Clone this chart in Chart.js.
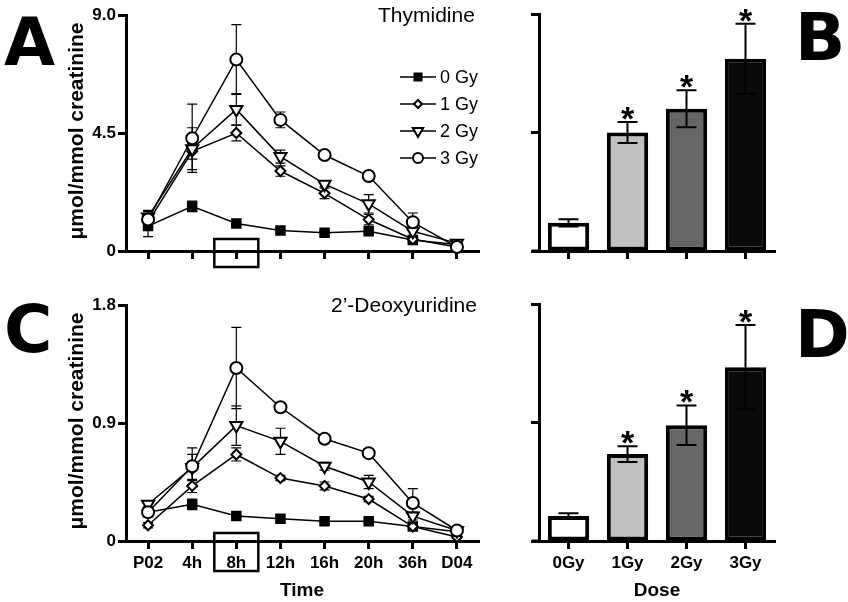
<!DOCTYPE html>
<html>
<head>
<meta charset="utf-8">
<script src="https://cdn.jsdelivr.net/npm/chart.js@4.4.0/dist/chart.umd.min.js"></script>
<style>
  body { margin: 0; background: #fff; }
  #wrap { position: relative; width: 848px; height: 602px; overflow: hidden; font-family: "Liberation Sans", Arial, sans-serif; }
  canvas { position: absolute; }
  .txt { position: absolute; white-space: nowrap; color: #000; }
  .big { font-family: "DejaVu Sans", sans-serif; font-weight: bold; font-size: 66px; line-height: 66px; }
  .ylab { font-weight: bold; font-size: 21px; transform: translate(-50%, -50%) rotate(-90deg); }
  .xlab { font-weight: bold; font-size: 19px; transform: translate(-50%, -50%); }
  .ttl { font-size: 21px; transform: translateY(-50%); }
</style>
</head>
<body>
<div id="wrap">
  <canvas id="chartA" width="490" height="290" style="left:0;top:0"></canvas>
  <canvas id="chartB" width="300" height="290" style="left:490px;top:0"></canvas>
  <canvas id="chartC" width="490" height="290" style="left:0;top:290px"></canvas>
  <canvas id="chartD" width="300" height="290" style="left:490px;top:290px"></canvas>

  <div class="txt big" style="left:4px;top:10px">A</div>
  <div class="txt big" style="left:795px;top:5px">B</div>
  <div class="txt big" style="left:4px;top:297px">C</div>
  <div class="txt big" style="left:795px;top:302px">D</div>

  <div class="txt ylab" style="left:76px;top:131px">μmol/mmol creatinine</div>
  <div class="txt ylab" style="left:76px;top:421px">μmol/mmol creatinine</div>
  <div class="txt ttl" style="left:378px;top:15px">Thymidine</div>
  <div class="txt ttl" style="left:331px;top:305px">2’-Deoxyuridine</div>
  <div class="txt xlab" style="left:302px;top:590px">Time</div>
  <div class="txt xlab" style="left:657px;top:590px">Dose</div>
</div>
<script>
// time points and dose groups
var timeLabels = ['P02', '4h', '8h', '12h', '16h', '20h', '36h', 'D04'];
var doseNames = ['0 Gy', '1 Gy', '2 Gy', '3 Gy'];
var doseLabels = ['0Gy', '1Gy', '2Gy', '3Gy'];

// thymidine, mean and error per time point
var thy0 = [0.95, 1.7, 1.05, 0.78, 0.7, 0.75, 0.42, 0.25];
var thy1 = [1.1, 3.8, 4.5, 3.05, 2.2, 1.2, 0.45, 0.15];
var thy2 = [1.3, 3.9, 5.4, 3.6, 2.55, 1.8, 0.75, 0.3];
var thy3 = [1.2, 4.3, 7.3, 5.0, 3.66, 2.86, 1.1, 0.15];
var thy0Err = [0.4, 0.2, 0.05, 0.05, 0.05, 0.05, 0.05, 0.03];
var thy1Err = [0.2, 0.3, 0.3, 0.2, 0.2, 0.2, 0.1, 0.05];
var thy2Err = [0.25, 0.8, 0.6, 0.25, 0.1, 0.35, 0.2, 0.05];
var thy3Err = [0.3, 1.3, 1.33, 0.3, 0.1, 0.1, 0.35, 0.05];

// 2'-deoxyuridine
var du0 = [0.22, 0.28, 0.19, 0.17, 0.15, 0.15, 0.11, 0.07];
var du1 = [0.12, 0.42, 0.66, 0.48, 0.42, 0.32, 0.11, 0.03];
var du2 = [0.28, 0.56, 0.88, 0.76, 0.57, 0.45, 0.19, 0.08];
var du3 = [0.22, 0.57, 1.32, 1.02, 0.78, 0.67, 0.29, 0.08];
var du0Err = [0.02, 0.04, 0.01, 0.02, 0.01, 0.01, 0.01, 0.01];
var du1Err = [0.02, 0.05, 0.05, 0.02, 0.03, 0.02, 0.02, 0.01];
var du2Err = [0.02, 0.1, 0.15, 0.1, 0.03, 0.05, 0.03, 0.01];
var du3Err = [0.02, 0.14, 0.31, 0.03, 0.02, 0.03, 0.11, 0.01];

// 8h values by dose
var thyBar = [1.07, 4.5, 5.4, 7.3];
var thyBarErr = [0.14, 0.4, 0.7, 1.33];
var duBar = [0.19, 0.66, 0.88, 1.32];
var duBarErr = [0.02, 0.06, 0.15, 0.32];

var barColors = ['#ffffff', '#c0c0c0', '#666666', '#0a0a0a'];
var pointStyles = ['rect', 'rectRot', 'triangle', 'circle'];
var pointRadii = [6, 5, 7, 6];
var pointRotations = [0, 0, 180, 0];

Chart.defaults.font.family = '"Liberation Sans", Arial, sans-serif';
Chart.defaults.color = '#000';

function errorBarPlugin(errs, capHalf, lineW, onTop) {
	function draw(chart) {
		var ctx = chart.ctx;
		var y = chart.scales.y;
		ctx.save();
		ctx.strokeStyle = '#000';
		ctx.lineWidth = lineW;
		for (var d = 0; d < chart.data.datasets.length; d++) {
			var meta = chart.getDatasetMeta(d);
			var vals = chart.data.datasets[d].data;
			for (var i = 0; i < vals.length; i++) {
				var x = meta.data[i].x;
				var yTop = y.getPixelForValue(vals[i] + errs[d][i]);
				var yBot = y.getPixelForValue(vals[i] - errs[d][i]);
				ctx.beginPath();
				ctx.moveTo(x, yTop); ctx.lineTo(x, yBot);
				ctx.moveTo(x - capHalf, yTop); ctx.lineTo(x + capHalf, yTop);
				ctx.moveTo(x - capHalf, yBot); ctx.lineTo(x + capHalf, yBot);
				ctx.stroke();
			}
		}
		ctx.restore();
	}
	if (onTop) {
		return { id: 'errbars', afterDatasetsDraw: draw };
	}
	return { id: 'errbars', beforeDatasetsDraw: draw };
}

// box drawn around the 8h tick
function boxPlugin(top, bottom) {
	return {
		id: 'box8h',
		afterDraw: function (chart) {
			var ctx = chart.ctx;
			var x = chart.scales.x.getPixelForValue(2);
			ctx.save();
			ctx.strokeStyle = '#000';
			ctx.lineWidth = 2.5;
			ctx.strokeRect(x - 22, top, 44, bottom - top);
			ctx.restore();
		}
	};
}

// the bar panels' x axis runs a little past the y axis
var axisStubPlugin = {
	id: 'axisStub',
	afterDraw: function (chart) {
		var ctx = chart.ctx;
		var area = chart.chartArea;
		ctx.save();
		ctx.strokeStyle = '#000';
		ctx.lineWidth = 3;
		ctx.beginPath();
		ctx.moveTo(area.left - 7, area.bottom);
		ctx.lineTo(area.left, area.bottom);
		ctx.stroke();
		ctx.restore();
	}
};

var legendPlugin = {
	id: 'doseLegend',
	afterDraw: function (chart) {
		var ctx = chart.ctx;
		ctx.save();
		ctx.font = '18px "Liberation Sans", Arial, sans-serif';
		ctx.textBaseline = 'middle';
		for (var i = 0; i < doseNames.length; i++) {
			var yy = 77 + i * 27;
			ctx.strokeStyle = '#000';
			ctx.lineWidth = 1.5;
			ctx.beginPath();
			ctx.moveTo(400, yy); ctx.lineTo(436, yy);
			ctx.stroke();
			ctx.fillStyle = i === 0 ? '#000' : '#fff';
			ctx.lineWidth = 2;
			Chart.helpers.drawPoint(ctx, {
				pointStyle: pointStyles[i],
				rotation: pointRotations[i],
				radius: pointRadii[i] - 1,
				borderWidth: 2
			}, 418, yy);
			ctx.fillStyle = '#000';
			ctx.fillText(doseNames[i], 440, yy + 1);
		}
		ctx.restore();
	}
};

function starPlugin(vals, errs) {
	return {
		id: 'stars',
		afterDraw: function (chart) {
			var ctx = chart.ctx;
			var meta = chart.getDatasetMeta(0);
			ctx.save();
			ctx.font = 'bold 34px "Liberation Sans", Arial, sans-serif';
			ctx.textAlign = 'center';
			ctx.textBaseline = 'alphabetic';
			ctx.fillStyle = '#000';
			for (var i = 1; i < vals.length; i++) {
				var yTop = chart.scales.y.getPixelForValue(vals[i] + errs[i]);
				ctx.fillText('*', meta.data[i].x, yTop + 8);
			}
			ctx.restore();
		}
	};
}

function getLineDatasets(seriesList) {
	var datasets = [];
	for (var i = 0; i < seriesList.length; i++) {
		datasets.push({
			label: doseNames[i],
			data: seriesList[i],
			borderColor: '#000',
			borderWidth: 1.5,
			pointStyle: pointStyles[i],
			pointRadius: pointRadii[i],
			pointRotation: pointRotations[i],
			pointBorderWidth: 2,
			pointBorderColor: '#000',
			pointBackgroundColor: i === 0 ? '#000' : '#fff',
			tension: 0,
			clip: false,
			order: 4 - i
		});
	}
	return datasets;
}

function getScales(max, step, showX, xWidth, yWidth, isBar) {
	return {
		x: {
			offset: true,
			grid: { offset: false, drawOnChartArea: false, drawTicks: true, tickLength: 8, tickWidth: 3, tickColor: '#000' },
			border: { display: true, width: 3, color: '#000' },
			ticks: { display: showX, padding: 4, font: { size: 17, weight: 'bold' } },
			afterFit: function (scale) { scale.height = xWidth; }
		},
		y: {
			min: 0,
			max: max,
			grid: { drawOnChartArea: false, drawTicks: true, tickLength: 8, tickWidth: 3, tickColor: '#000' },
			border: { display: true, width: 3, color: '#000' },
			ticks: {
				display: !isBar,
				stepSize: step,
				padding: 2,
				font: { size: 17, weight: 'bold' },
				callback: function (v) { return v === 0 ? '0' : v.toFixed(1); }
			},
			afterFit: function (scale) { scale.width = yWidth; }
		}
	};
}

function makeLineChart(id, seriesList, errList, max, step, showX, boxTop, boxBottom, withLegend) {
	var plugins = [errorBarPlugin(errList, 5, 1.2, false), boxPlugin(boxTop, boxBottom)];
	if (withLegend) plugins.push(legendPlugin);
	return new Chart(document.getElementById(id), {
		type: 'line',
		data: { labels: timeLabels, datasets: getLineDatasets(seriesList) },
		options: {
			responsive: false,
			animation: false,
			layout: { padding: { top: 15, right: 11, left: 0, bottom: 0 } },
			plugins: { legend: { display: false }, tooltip: { enabled: false } },
			scales: getScales(max, step, showX, 39, 126, false)
		},
		plugins: plugins
	});
}

function makeBarChart(id, vals, errs, max, step, showX) {
	return new Chart(document.getElementById(id), {
		type: 'bar',
		data: {
			labels: doseLabels,
			datasets: [{
				data: vals,
				backgroundColor: barColors,
				borderColor: '#000',
				borderWidth: 4,
				borderSkipped: false,
				barPercentage: 0.7,
				categoryPercentage: 1
			}]
		},
		options: {
			responsive: false,
			animation: false,
			layout: { padding: { top: 14, right: 15, left: 0, bottom: 0 } },
			plugins: { legend: { display: false }, tooltip: { enabled: false } },
			scales: getScales(max, step, showX, 39, 49, true)
		},
		plugins: [errorBarPlugin([errs], 10, 2, true), starPlugin(vals, errs), axisStubPlugin]
	});
}

makeLineChart('chartA', [thy0, thy1, thy2, thy3], [thy0Err, thy1Err, thy2Err, thy3Err], 9, 4.5, false, 239, 267, true);
makeLineChart('chartC', [du0, du1, du2, du3], [du0Err, du1Err, du2Err, du3Err], 1.8, 0.9, true, 243, 281, false);
makeBarChart('chartB', thyBar, thyBarErr, 9, 4.5, false);
makeBarChart('chartD', duBar, duBarErr, 1.8, 0.9, true);
</script>
</body>
</html>
